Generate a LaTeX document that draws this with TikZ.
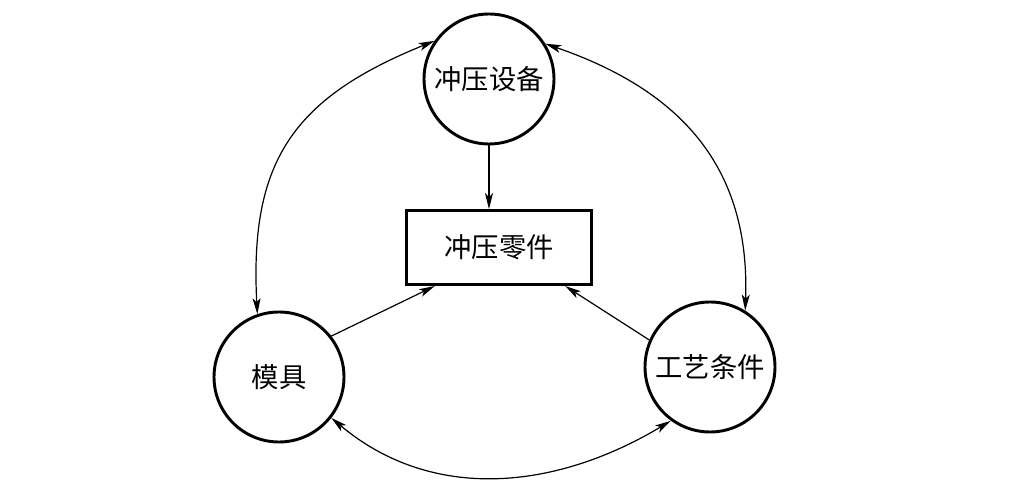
\documentclass[tikz,border=0pt]{standalone}
\usepackage{fontspec}
\newfontfamily\cjk{Noto Sans CJK SC}
\usetikzlibrary{arrows.meta,calc}
\begin{document}
\begin{tikzpicture}[x=0.75pt,y=0.75pt,
  lbl/.style={font=\cjk\fontsize{20.5}{24}\selectfont},
  circ/.style={circle,draw,line width=2.2pt,minimum size=97.5pt,inner sep=0pt,lbl},
  box/.style={rectangle,draw,line width=2.2pt,minimum width=139pt,minimum height=55.5pt,inner sep=0pt,lbl},
  arr/.style={line width=0.9pt,-{Stealth[length=12pt,width=6pt,inset=3pt]}},
  darr/.style={line width=0.9pt,{Stealth[length=12pt,width=6pt,inset=3pt]}-{Stealth[length=12pt,width=6pt,inset=3pt]}}]
\useasboundingbox (0,0) rectangle (1015,493);
\node[circ] (top) at (489,414) {冲压设备};
\node[box] (part) at (499,245.5) {冲压零件};
\node[circ] (mold) at (279,116) {模具};
\node[circ] (proc) at (710,126) {工艺条件};
\draw[arr] (top.south) -- (top.south |- part.north);
\draw[arr] (mold.38) -- ($(part.south west)+(30,0)$);
\draw[arr] (proc.156) -- ($(part.south east)+(-28,0)$);
\draw[darr] (top.145) to[out=202,in=93,looseness=1.2] (mold.109);
\draw[darr] (top.32) to[out=-19,in=88,looseness=1.1] (proc.58);
\draw[darr] (mold.-38) to[out=-40,in=211] (proc.234);
\end{tikzpicture}
\end{document}
